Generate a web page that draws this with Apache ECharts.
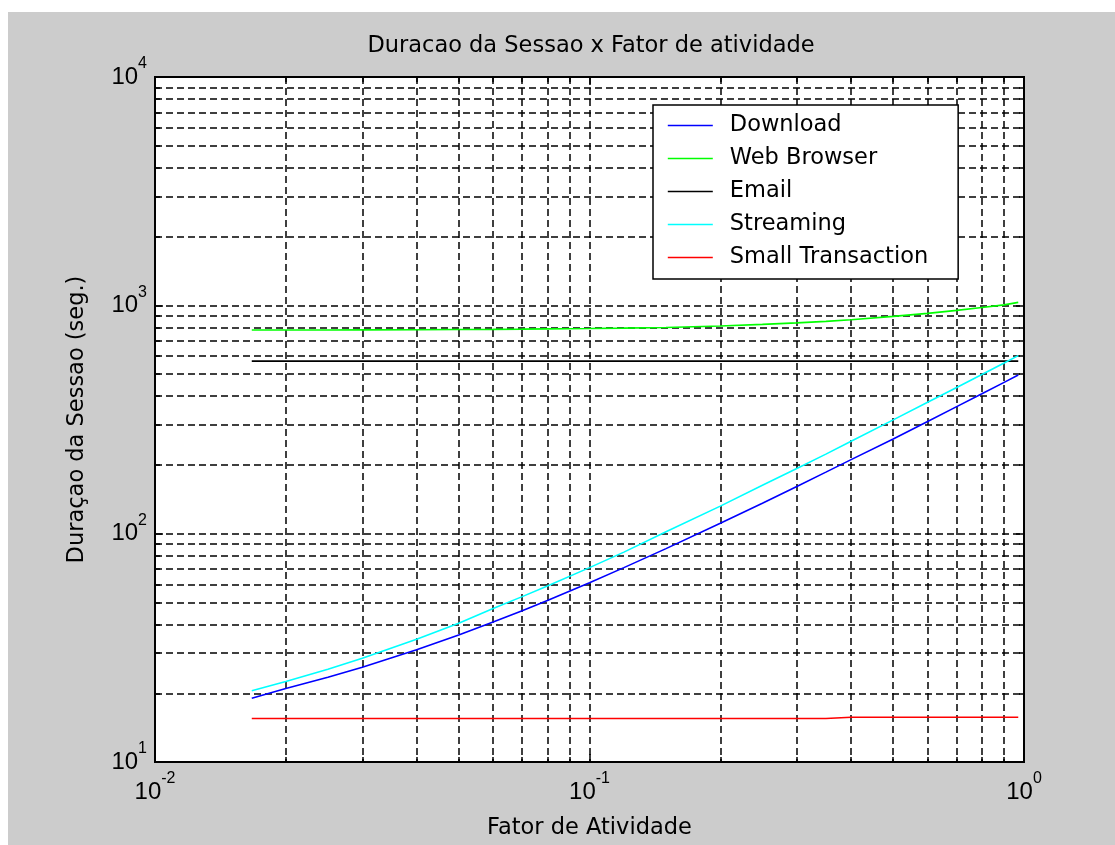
<!DOCTYPE html>
<html>
<head>
<meta charset="utf-8">
<title>Duracao da Sessao x Fator de atividade</title>
<script src="https://cdn.jsdelivr.net/npm/echarts@6/dist/echarts.min.js"></script>
<style>
  html, body { margin: 0; padding: 0; background: #ffffff; }
  #chart { position: absolute; left: 8px; top: 12px; width: 1107px; height: 833px; }
</style>
</head>
<body>
<div id="chart"></div>
<script>
// fator de atividade (x) and session duration per service (y, seconds)
const fator = [0.0167, 0.02, 0.025, 0.03, 0.04, 0.05, 0.06, 0.07, 0.08, 0.1, 0.12, 0.15,
    0.2, 0.25, 0.3, 0.35, 0.4, 0.5, 0.6, 0.7, 0.8, 0.9, 0.97];
const download = [19, 21, 23.5, 26, 31, 36, 41, 46, 51, 61, 71, 86,
    111, 136, 161, 186, 211, 260, 310, 360, 410, 460, 495];
const webBrowser = [780, 780, 780, 781, 782, 784, 785, 787, 789, 792, 795, 800,
    812, 825, 838, 851, 865, 895, 922, 950, 978, 1005, 1030];
const email = [570, 570, 570, 570, 570, 570, 570, 570, 570, 570, 570, 570,
    570, 570, 570, 570, 570, 570, 570, 570, 570, 570, 570];
const streaming = [20.5, 22.5, 25.5, 28.5, 34.5, 40.5, 47, 53, 59, 71, 83, 102,
    132, 163, 193, 223, 254, 315, 376, 437, 498, 559, 602];
const smallTransaction = [15.5, 15.5, 15.5, 15.5, 15.5, 15.5, 15.5, 15.5, 15.5, 15.5, 15.5, 15.5,
    15.5, 15.5, 15.5, 15.5, 15.7, 15.7, 15.7, 15.7, 15.7, 15.7, 15.7];

const seriesNames = ['Download', 'Web Browser', 'Email', 'Streaming', 'Small Transaction'];
const seriesColors = ['#0000ff', '#00ff00', '#000000', '#00ffff', '#ff0000'];
const xTickExp = ['-2', '-1', '0'];
const yTickExp = ['1', '2', '3', '4'];

const FONT = 'DejaVu Sans';
const gridDash = [7, 4];

const pairs = (ys) => fator.map((x, i) => [x, ys[i]]);

const powLabel = (exps) => (value) => {
    const e = String(Math.round(Math.log10(value)));
    if (exps.indexOf(e) < 0) {
        return '';
    }
    return '{b|10}{s|' + e + '}';
};

const labelRich = {
    b: { fontFamily: 'Liberation Sans', fontSize: 24, color: '#000', padding: [9, 0, 0, 0] },
    s: { fontFamily: 'Liberation Sans', fontSize: 16, color: '#000', verticalAlign: 'top' }
};

const mainAxis = (extra) => ({
    type: 'log',
    logBase: 10,
    axisLine: { show: false },
    axisTick: { show: true, inside: true, length: 8, lineStyle: { color: '#000', width: 1.5 } },
    minorTick: { show: true, splitNumber: 9, length: 5, lineStyle: { color: '#000', width: 1.5 } },
    splitLine: { show: true, lineStyle: { color: '#000', width: 1.5, type: gridDash } },
    minorSplitLine: { show: true, lineStyle: { color: '#000', width: 1.5, type: gridDash } },
    ...extra
});

const mirrorAxis = (extra) => ({
    type: 'log',
    logBase: 10,
    axisLine: { show: false },
    axisTick: { show: true, inside: true, length: 8, lineStyle: { color: '#000', width: 1.5 } },
    minorTick: { show: true, splitNumber: 9, length: 5, lineStyle: { color: '#000', width: 1.5 } },
    splitLine: { show: false },
    minorSplitLine: { show: false },
    axisLabel: { show: false },
    ...extra
});

const makeSeries = (name, ys, color) => ({
    name: name,
    type: 'line',
    data: pairs(ys),
    symbol: 'none',
    smooth: false,
    lineStyle: { color: color, width: 1.6 },
    itemStyle: { color: color },
    z: 5
});

const chart = echarts.init(document.getElementById('chart'));
chart.setOption({
    animation: false,
    backgroundColor: '#cccccc',
    title: {
        text: 'Duracao da Sessao x Fator de atividade',
        left: 583,
        top: 23,
        padding: 0,
        textAlign: 'center',
        textStyle: { fontFamily: FONT, fontSize: 22.5, fontWeight: 'normal', color: '#000' }
    },
    legend: {
        orient: 'vertical',
        left: 645,
        top: 93,
        backgroundColor: '#ffffff',
        borderColor: '#000',
        borderWidth: 1.5,
        borderRadius: 0,
        padding: [9, 30, 10, 14],
        itemWidth: 45,
        itemHeight: 22,
        itemGap: 10,
        itemStyle: { opacity: 0 },
        lineStyle: { width: 1.6 },
        textStyle: { fontFamily: FONT, fontSize: 22.5, color: '#000', padding: [0, 0, 0, 12] },
        data: seriesNames
    },
    grid: {
        left: 147,
        top: 65,
        right: 91,
        bottom: 83,
        show: true,
        backgroundColor: '#ffffff',
        borderColor: '#000',
        borderWidth: 2
    },
    xAxis: [
        mainAxis({
            min: 0.01,
            max: 1,
            position: 'bottom',
            axisLabel: { margin: 9, formatter: powLabel(xTickExp), rich: labelRich },
            name: 'Fator de Atividade',
            nameLocation: 'middle',
            nameGap: 55,
            nameTextStyle: { fontFamily: FONT, fontSize: 22.5, color: '#000' }
        }),
        mirrorAxis({ min: 0.01, max: 1, position: 'top' })
    ],
    yAxis: [
        mainAxis({
            min: 10,
            max: 10000,
            position: 'left',
            axisLabel: { margin: 8, padding: [0, 0, 9, 0], formatter: powLabel(yTickExp), rich: labelRich },
            name: 'Duraçao da Sessao (seg.)',
            nameLocation: 'middle',
            nameGap: 66,
            nameTextStyle: { fontFamily: FONT, fontSize: 22.5, color: '#000' }
        }),
        mirrorAxis({ min: 10, max: 10000, position: 'right' })
    ],
    series: [
        makeSeries(seriesNames[0], download, seriesColors[0]),
        makeSeries(seriesNames[1], webBrowser, seriesColors[1]),
        makeSeries(seriesNames[2], email, seriesColors[2]),
        makeSeries(seriesNames[3], streaming, seriesColors[3]),
        makeSeries(seriesNames[4], smallTransaction, seriesColors[4])
    ]
});
</script>
</body>
</html>
